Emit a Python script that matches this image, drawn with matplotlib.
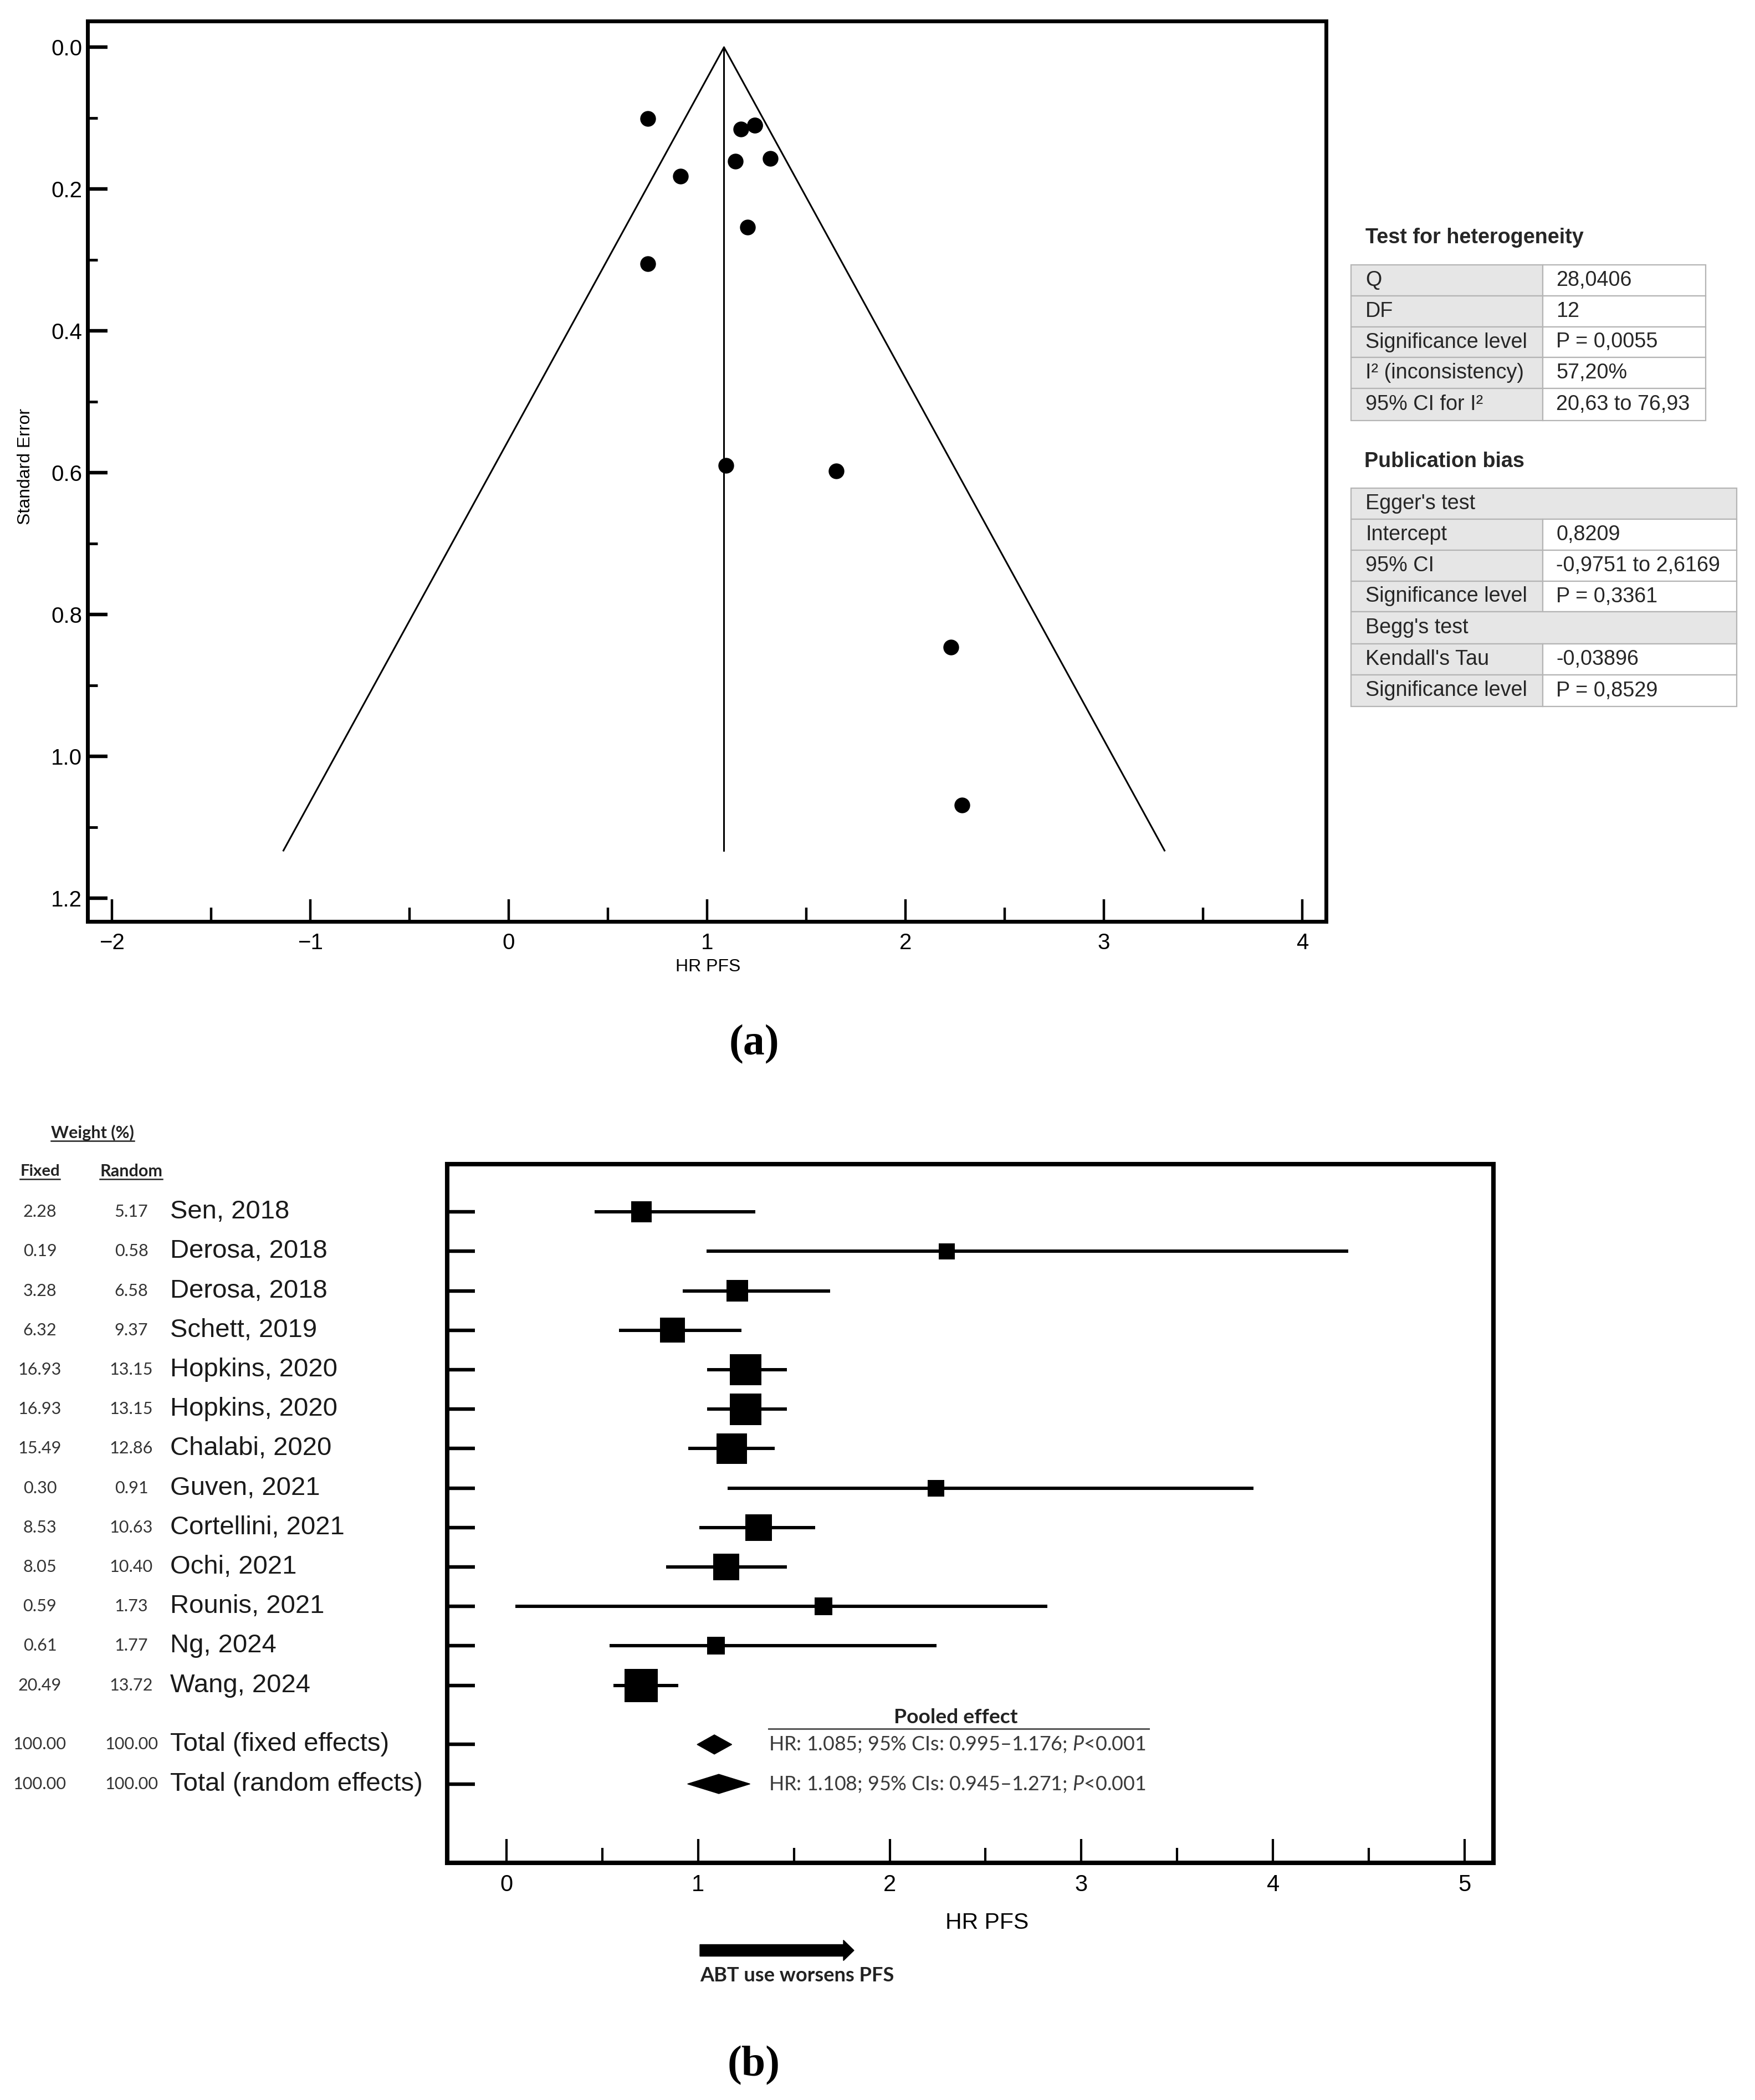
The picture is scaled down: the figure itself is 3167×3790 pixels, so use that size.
import numpy as np
import matplotlib
matplotlib.use("Agg")
import matplotlib.pyplot as plt
from matplotlib.patches import Polygon, Rectangle
from matplotlib.transforms import blended_transform_factory
from matplotlib.ticker import MultipleLocator, FormatStrFormatter

# ---------------- data ----------------
studies = ["Sen, 2018", "Derosa, 2018", "Derosa, 2018", "Schett, 2019",
           "Hopkins, 2020", "Hopkins, 2020", "Chalabi, 2020", "Guven, 2021",
           "Cortellini, 2021", "Ochi, 2021", "Rounis, 2021", "Ng, 2024", "Wang, 2024"]
hr = [0.705, 2.298, 1.205, 0.867, 1.249, 1.249, 1.176, 2.240, 1.317, 1.147, 1.655, 1.094, 0.702]
ci_low = [0.461, 1.043, 0.921, 0.587, 1.046, 1.046, 0.950, 1.155, 1.008, 0.832, 0.048, 0.537, 0.558]
ci_high = [1.299, 4.393, 1.690, 1.227, 1.464, 1.464, 1.399, 3.898, 1.611, 1.464, 2.823, 2.244, 0.896]
w_fixed = [2.28, 0.19, 3.28, 6.32, 16.93, 16.93, 15.49, 0.30, 8.53, 8.05, 0.59, 0.61, 20.49]
w_random = [5.17, 0.58, 6.58, 9.37, 13.15, 13.15, 12.86, 0.91, 10.63, 10.40, 1.73, 1.77, 13.72]

pooled_labels = ["Total (fixed effects)", "Total (random effects)"]
pooled_hr = [1.085, 1.108]
pooled_low = [0.995, 0.945]
pooled_high = [1.176, 1.271]
pooled_weights = [100.00, 100.00]

funnel_hr = [0.701, 2.284, 1.204, 0.866, 1.240, 1.240, 1.170, 2.229, 1.318, 1.142, 1.651, 1.095, 0.701]
funnel_se = [0.305, 1.069, 0.254, 0.182, 0.110, 0.110, 0.1155, 0.846, 0.157, 0.161, 0.598, 0.590, 0.1005]
funnel_se_max = 1.133

het_labels = ["Q", "DF", "Significance level", "I\u00b2 (inconsistency)", "95% CI for I\u00b2"]
het_values = ["28,0406", "12", "P = 0,0055", "57,20%", "20,63 to 76,93"]
bias_labels = ["Egger's test", "Intercept", "95% CI", "Significance level",
               "Begg's test", "Kendall's Tau", "Significance level"]
bias_values = [None, "0,8209", "-0,9751 to 2,6169", "P = 0,3361",
               None, "-0,03896", "P = 0,8529"]

# ---------------- figure ----------------
W, H = 3167, 3790
DPI = 100
plt.rcParams["font.family"] = ["Liberation Sans", "DejaVu Sans"]
plt.rcParams["mathtext.fontset"] = "custom"
plt.rcParams["mathtext.rm"] = "Lato"
plt.rcParams["mathtext.it"] = "Lato:italic"
fig = plt.figure(figsize=(W / DPI, H / DPI), dpi=DPI, facecolor="white")
PT = 72.0 / DPI  # points per pixel


def px_rect(l, t, r, b):
    return [l / W, 1 - b / H, (r - l) / W, (b - t) / H]


# ---------------- (a) funnel plot ----------------
ax1 = fig.add_axes(px_rect(158, 38, 2393, 1663))
ax1.set_xlim(-2.123, 4.12)
ax1.set_ylim(1.233, -0.037)
c = pooled_hr[0]
ax1.plot([c - 1.96 * funnel_se_max, c, c + 1.96 * funnel_se_max],
         [funnel_se_max, 0, funnel_se_max], color="black", lw=2.2)
ax1.plot([c, c], [0, funnel_se_max], color="black", lw=2.2)
ax1.scatter(funnel_hr, funnel_se, s=(27 * PT) ** 2, color="black", zorder=3)
ax1.xaxis.set_major_locator(MultipleLocator(1))
ax1.xaxis.set_minor_locator(MultipleLocator(0.5))
ax1.yaxis.set_major_locator(MultipleLocator(0.2))
ax1.yaxis.set_minor_locator(MultipleLocator(0.1))
ax1.yaxis.set_major_formatter(FormatStrFormatter("%.1f"))
ax1.tick_params(axis="both", which="both", direction="in", top=False, right=False,
                labelsize=29, colors="black")
ax1.tick_params(axis="x", which="major", length=40 * PT, width=3.2, pad=20 * PT)
ax1.tick_params(axis="x", which="minor", length=25 * PT, width=3.2)
ax1.tick_params(axis="y", which="major", length=36 * PT, width=4.6, pad=10 * PT)
ax1.tick_params(axis="y", which="minor", length=18 * PT, width=3.5)
for sp in ax1.spines.values():
    sp.set_linewidth(5)

# ---------------- (b) forest plot ----------------
ax2 = fig.add_axes(px_rect(807, 2101, 2695, 3362))
n = len(studies)
rows = np.arange(n)
pooled_rows = n + 0.5 + np.arange(len(pooled_labels))
ax2.set_xlim(-0.309, 5.15)
ax2.set_ylim(16.5, -1.21)
ax2.hlines(rows, ci_low, ci_high, color="black", lw=6 * PT, zorder=2)
side_px = 26 + 7.5 * np.sqrt(np.array(w_fixed))
ax2.scatter(hr, rows, marker="s", s=(side_px * PT) ** 2, color="black",
            linewidths=0, zorder=3)
half_h = 0.245
for y, lo, m, hi in zip(pooled_rows, pooled_low, pooled_hr, pooled_high):
    ax2.add_patch(Polygon([(lo, y), (m, y - half_h), (hi, y), (m, y + half_h)],
                          closed=True, facecolor="black", edgecolor="black", lw=1))
ax2.set_yticks(np.concatenate([rows, pooled_rows]))
ax2.set_yticklabels([])
ax2.xaxis.set_major_locator(MultipleLocator(1))
ax2.xaxis.set_minor_locator(MultipleLocator(0.5))
ax2.tick_params(axis="both", which="both", direction="in", top=False, right=False,
                labelsize=30)
ax2.tick_params(axis="x", which="major", length=43 * PT, width=3.0, pad=20 * PT)
ax2.tick_params(axis="x", which="minor", length=27 * PT, width=3.0)
ax2.tick_params(axis="y", which="major", length=50 * PT, width=4.6)
for sp in ax2.spines.values():
    sp.set_linewidth(5.8)

# ---------------- overlay for annotations (pixel coordinates) ----------------
ov = fig.add_axes([0, 0, 1, 1])
ov.set_xlim(0, W)
ov.set_ylim(H, 0)
ov.axis("off")
ov.patch.set_alpha(0)

renderer = fig.canvas.get_renderer()


def fit_text(axx, x, y, s, target_w, size0=20, transform=None, **kw):
    t = axx.text(x, y, s, fontsize=size0,
                 transform=transform if transform is not None else axx.transData, **kw)
    w = t.get_window_extent(renderer=renderer).width
    t.set_fontsize(size0 * target_w / w)
    return t


# funnel axis titles
ov.text(1278, 1745, "HR PFS", fontsize=23, ha="center", va="center")
ov.text(46, 842, "Standard Error", fontsize=23, ha="center", va="center", rotation=90)
ov.text(1361, 1885, "(a)", fontsize=56, ha="center", va="center",
        family=["Liberation Serif", "DejaVu Serif"], weight="bold")

# tables
TXT = "#262626"
EDGE = "#b4b4b4"
GREY = "#e6e6e6"
TS = 27.2
ov.text(2464, 429, "Test for heterogeneity", fontsize=TS, weight="bold",
        ha="left", va="center", color=TXT)
t1_x = [2438, 2784, 3078]
t1_y = [478, 534, 590, 645, 701, 759]
for i, (lab, val) in enumerate(zip(het_labels, het_values)):
    y0, y1 = t1_y[i], t1_y[i + 1]
    ov.add_patch(Rectangle((t1_x[0], y0), t1_x[1] - t1_x[0], y1 - y0,
                           facecolor=GREY, edgecolor=EDGE, lw=1.6))
    ov.add_patch(Rectangle((t1_x[1], y0), t1_x[2] - t1_x[1], y1 - y0,
                           facecolor="white", edgecolor=EDGE, lw=1.6))
    ov.text(2464, (y0 + y1) / 2, lab, fontsize=TS, ha="left", va="center", color=TXT)
    ov.text(2808, (y0 + y1) / 2, val, fontsize=TS, ha="left", va="center", color=TXT)

ov.text(2462, 833, "Publication bias", fontsize=TS, weight="bold",
        ha="left", va="center", color=TXT)
t2_x = [2438, 2784, 3134]
t2_y = [881, 937, 993, 1049, 1104, 1162, 1218, 1275]
for i, (lab, val) in enumerate(zip(bias_labels, bias_values)):
    y0, y1 = t2_y[i], t2_y[i + 1]
    if val is None:
        ov.add_patch(Rectangle((t2_x[0], y0), t2_x[2] - t2_x[0], y1 - y0,
                               facecolor=GREY, edgecolor=EDGE, lw=1.6))
    else:
        ov.add_patch(Rectangle((t2_x[0], y0), t2_x[1] - t2_x[0], y1 - y0,
                               facecolor=GREY, edgecolor=EDGE, lw=1.6))
        ov.add_patch(Rectangle((t2_x[1], y0), t2_x[2] - t2_x[1], y1 - y0,
                               facecolor="white", edgecolor=EDGE, lw=1.6))
        ov.text(2808, (y0 + y1) / 2, val, fontsize=TS, ha="left", va="center", color=TXT)
    ov.text(2464, (y0 + y1) / 2, lab, fontsize=TS, ha="left", va="center", color=TXT)

# forest left-hand columns
bt = blended_transform_factory(ov.transData, ax2.transData)
CAL = ["Lato", "DejaVu Sans"]
for y, name in zip(np.concatenate([rows, pooled_rows]), studies + pooled_labels):
    ov.text(307, y, name, fontsize=34, ha="left", va="center", color="#1a1a1a",
            transform=bt)

probe = fit_text(ov, 0, -100, "100.00", 96, family=CAL, color="#333333")
wsize = probe.get_fontsize()
probe.remove()
for y, wf, wr in zip(np.concatenate([rows, pooled_rows]),
                     w_fixed + pooled_weights, w_random + pooled_weights):
    ov.text(72, y, f"{wf:.2f}", fontsize=wsize, family=CAL, ha="center", va="center",
            color="#333333", transform=bt)
    ov.text(237, y, f"{wr:.2f}", fontsize=wsize, family=CAL, ha="center", va="center",
            color="#333333", transform=bt)

fit_text(ov, 167, 2044, "Weight (%)", 150, family=CAL, weight="bold",
         ha="center", va="center", color="#222222")
ov.plot([92, 242], [2059, 2059], color="#222222", lw=1.8)
fit_text(ov, 72, 2114, "Fixed", 72, family=CAL, weight="bold",
         ha="center", va="center", color="#222222")
ov.plot([36, 108], [2128, 2128], color="#222222", lw=1.8)
fit_text(ov, 237, 2114, "Random", 113, family=CAL, weight="bold",
         ha="center", va="center", color="#222222")
ov.plot([180, 293], [2128, 2128], color="#222222", lw=1.8)

# pooled effect box
fit_text(ov, 1725, 3100, "Pooled effect", 224, family=CAL, weight="bold",
         ha="center", va="center", color="#222222")
ov.plot([1387, 2073], [3120, 3120], color="#555555", lw=2.2)
for y, m, lo, hi in zip(pooled_rows, pooled_hr, pooled_low, pooled_high):
    s = f"HR: {m:.3f}; 95% CIs: {lo:.3f}\u2013{hi:.3f}; $\\mathit{{P}}$<0.001"
    fit_text(ov, 1387, y, s, 680, family=CAL, ha="left", va="center",
             color="#3a3a3a", transform=bt)

# forest x label, arrow and caption
ov.text(1781, 3470, "HR PFS", fontsize=29.5, ha="center", va="center")
ov.add_patch(Polygon([(1263, 3509.5), (1522, 3509.5), (1522, 3501.5), (1541, 3520),
                      (1522, 3538.5), (1522, 3530.5), (1263, 3530.5)],
                     closed=True, facecolor="black", edgecolor="black", lw=1))
fit_text(ov, 1263, 3566, "ABT use worsens PFS", 351, family=CAL, weight="bold",
         ha="left", va="center", color="#222222")
ov.text(1360, 3728, "(b)", fontsize=56, ha="center", va="center",
        family=["Liberation Serif", "DejaVu Serif"], weight="bold")

fig.savefig("out.png", dpi=DPI, facecolor="white")
